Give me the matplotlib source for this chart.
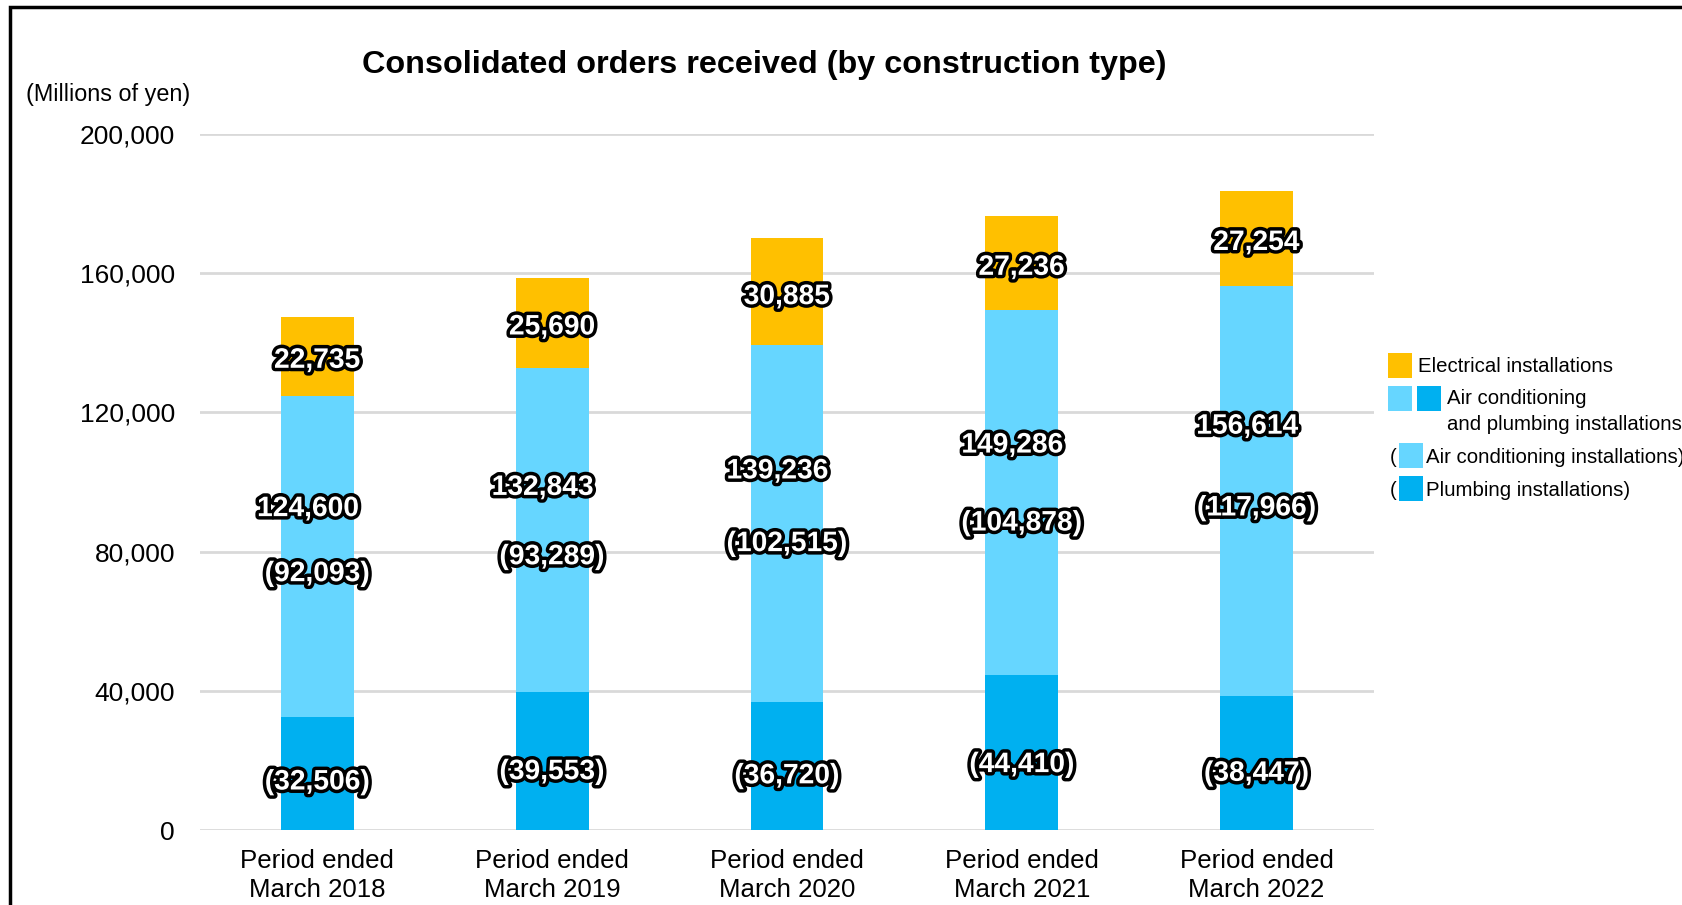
import matplotlib
matplotlib.use("Agg")
import matplotlib.pyplot as plt
import matplotlib.patheffects as pe
from matplotlib.patches import Rectangle
from matplotlib.ticker import FuncFormatter

plt.rcParams['font.family'] = ['Liberation Sans', 'DejaVu Sans']

categories = ["Period ended\nMarch 2018", "Period ended\nMarch 2019", "Period ended\nMarch 2020",
              "Period ended\nMarch 2021", "Period ended\nMarch 2022"]
plumbing = [32506, 39553, 36720, 44410, 38447]
air_conditioning = [92093, 93289, 102515, 104878, 117966]
ac_plumbing_total = [124600, 132843, 139236, 149286, 156614]
electrical = [22735, 25690, 30885, 27236, 27254]
yticks = [0, 40000, 80000, 120000, 160000, 200000]

C_ELEC = "#FFC000"
C_AC = "#66D6FF"
C_PL = "#00B0F0"
GRID = "#D9D9D9"

W, H = 1683, 905
fig = plt.figure(figsize=(W / 100, H / 100), dpi=100)
ax = fig.add_axes([200 / W, 1 - 830 / H, (1374 - 200) / W, (830 - 134) / H])

x = list(range(len(categories)))
bw = 0.31
ac_bottom = plumbing
el_bottom = [p + a for p, a in zip(plumbing, air_conditioning)]
ax.bar(x, plumbing, bw, color=C_PL, zorder=2)
ax.bar(x, air_conditioning, bw, bottom=ac_bottom, color=C_AC, zorder=2)
ax.bar(x, electrical, bw, bottom=el_bottom, color=C_ELEC, zorder=2)

ax.set_xlim(-0.5, 4.5)
ax.set_ylim(0, 200000)
ax.set_yticks(yticks)
ax.yaxis.set_major_formatter(FuncFormatter(lambda v, p: f"{int(v):,}"))
ax.grid(axis='y', color=GRID, linewidth=2, zorder=0)
for s in ax.spines.values():
    s.set_visible(False)
ax.tick_params(axis='y', length=0, pad=18, labelsize=19)
ax.tick_params(axis='x', length=0, pad=14, labelsize=18.6)
ax.set_xticks(x)
ax.set_xticklabels(categories, linespacing=1.22)

stroke = [pe.withStroke(linewidth=5, foreground='black')]
lab_kw = dict(ha='center', va='center', color='white', fontsize=20.3, fontweight='bold',
              path_effects=stroke, zorder=5)
for i in x:
    ax.text(i, el_bottom[i] + electrical[i] * 0.45, f"{electrical[i]:,}", **lab_kw)
    ax.text(i - 0.04, ac_plumbing_total[i] * 0.74, f"{ac_plumbing_total[i]:,}", **lab_kw)
    ax.text(i, ac_plumbing_total[i] * 0.59, f"({air_conditioning[i]:,})", **lab_kw)
    ax.text(i, plumbing[i] * 0.42, f"({plumbing[i]:,})", **lab_kw)


def fx(px):
    return px / W


def fy(py):
    return 1 - py / H


fig.text(fx(764), fy(65), "Consolidated orders received (by construction type)",
         ha='center', va='center', fontsize=23.3, fontweight='bold')
fig.text(fx(26), fy(94), "(Millions of yen)", ha='left', va='center', fontsize=16.8)

# frame
fig.patches.append(Rectangle((fx(10), fy(H + 50)), 1.2, fy(7) - fy(H + 50), transform=fig.transFigure,
                             fill=False, edgecolor='black', linewidth=2.5))


def patch(x0, y0, color, w=24, h=25):
    fig.patches.append(Rectangle((fx(x0), fy(y0 + h)), w / W, h / H, transform=fig.transFigure,
                                 facecolor=color, edgecolor='none'))


lg = dict(fontsize=14.7, va='center', ha='left')
patch(1388, 353, C_ELEC)
fig.text(fx(1418), fy(366), "Electrical installations", **lg)
patch(1388, 386, C_AC)
patch(1417, 386, C_PL)
fig.text(fx(1447), fy(399), "Air conditioning", **lg)
fig.text(fx(1447), fy(424), "and plumbing installations", **lg)
fig.text(fx(1390), fy(457), "(", **lg)
patch(1399, 443, C_AC)
fig.text(fx(1426), fy(457), "Air conditioning installations)", **lg)
fig.text(fx(1390), fy(490), "(", **lg)
patch(1399, 476, C_PL)
fig.text(fx(1426), fy(490), "Plumbing installations)", **lg)

fig.savefig("out.png", dpi=100)
